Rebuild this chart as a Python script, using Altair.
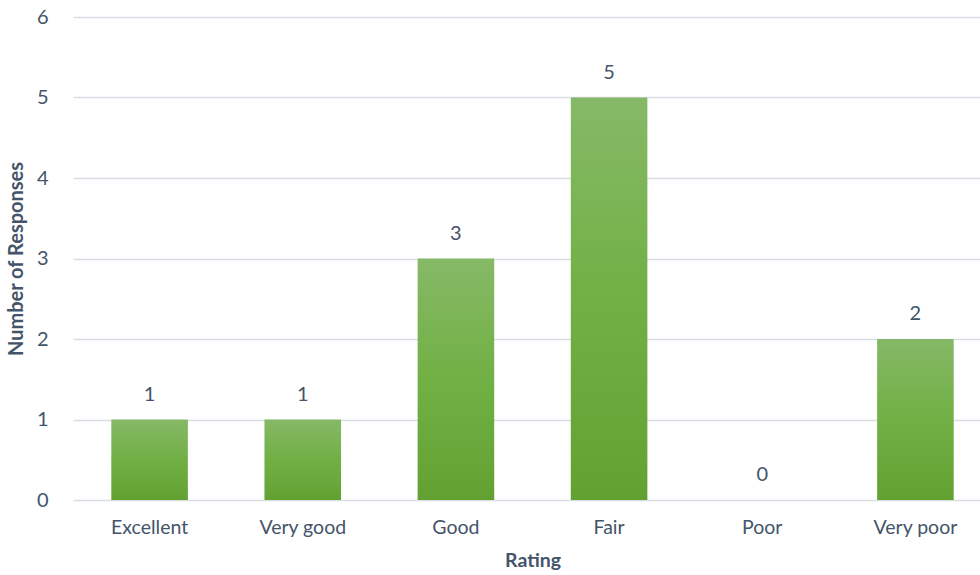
import altair as alt
import pandas as pd

# Survey ratings and how many responses each received
ratings = ["Excellent", "Very good", "Good", "Fair", "Poor", "Very poor"]
responses = [1, 1, 3, 5, 0, 2]

df = pd.DataFrame({"Rating": ratings, "Responses": responses})

FONT = "Lato"
TEXT = "#44546a"

green = alt.Gradient(
    gradient="linear",
    x1=0, y1=0, x2=0, y2=1,
    stops=[
        alt.GradientStop(offset=0, color="#86b967"),
        alt.GradientStop(offset=0.5, color="#71b044"),
        alt.GradientStop(offset=1, color="#62a131"),
    ],
)

x = alt.X(
    "Rating:N",
    sort=ratings,
    scale=alt.Scale(range=[0, 919], paddingInner=0.5, paddingOuter=0.25),
    axis=alt.Axis(
        title="Rating",
        labelAngle=0,
        domain=False,
        ticks=False,
        labelFontSize=19.5,
        labelColor=TEXT,
        labelFont=FONT,
        labelPadding=18,
        titleFontSize=19.5,
        titleFont=FONT,
        titleFontWeight="bold",
        titleColor=TEXT,
        titlePadding=15,
    ),
)

y = alt.Y(
    "Responses:Q",
    scale=alt.Scale(domain=[0, 6], nice=False),
    axis=alt.Axis(
        title="Number of Responses",
        values=[0, 1, 2, 3, 4, 5, 6],
        format="d",
        domain=False,
        ticks=False,
        grid=True,
        gridColor="#d9dde4",
        gridWidth=1.5,
        labelFontSize=20,
        labelColor=TEXT,
        labelFont=FONT,
        labelPadding=25,
        titleFontSize=20,
        titleFont=FONT,
        titleFontWeight="bold",
        titleColor=TEXT,
        titlePadding=10,
    ),
)

bars = alt.Chart(df).mark_bar(color=green).encode(x=x, y=y)

labels = alt.Chart(df).mark_text(
    fontSize=20, font=FONT, color=TEXT, baseline="middle", dy=-25
).encode(x=alt.X("Rating:N", sort=ratings), y="Responses:Q", text="Responses:Q")

chart = (
    alt.layer(bars, labels)
    .properties(
        width=907,
        height=483,
        autosize=alt.AutoSizeParams(type="none"),
        padding={"left": 73, "top": 17, "right": 0, "bottom": 75},
    )
    .configure(background="white")
    .configure_view(stroke=None)
)

chart.save("out.html", embed_options={"renderer": "svg", "actions": False})
